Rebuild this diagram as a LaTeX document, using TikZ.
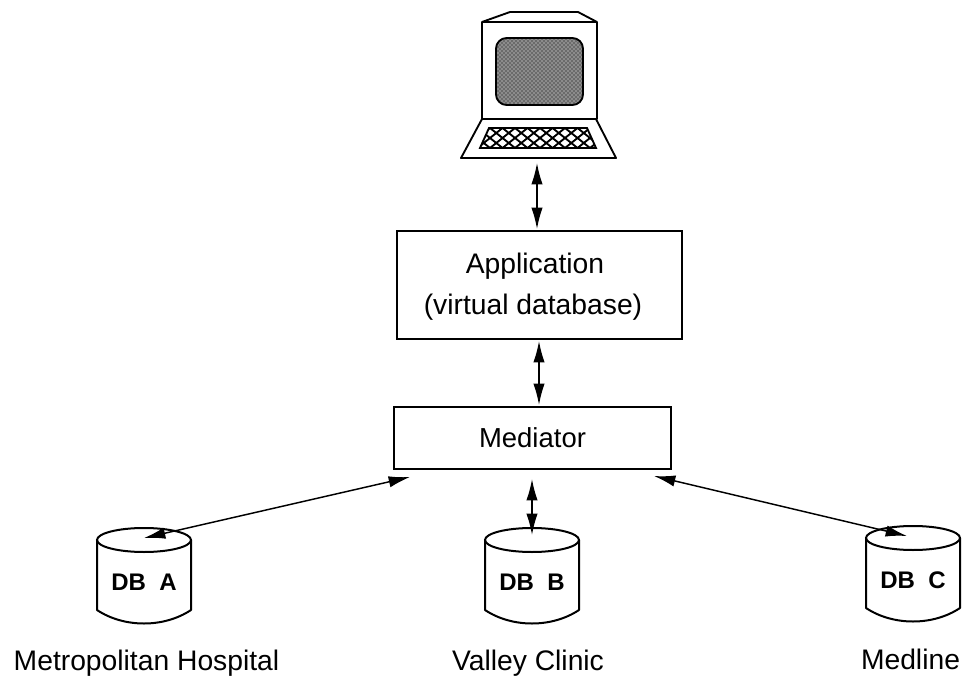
\documentclass[tikz,border=0pt]{standalone}
\usepackage{fontspec}
\setmainfont{Liberation Sans}
\usetikzlibrary{arrows.meta,patterns}

\tikzset{
    boxnode/.style={draw, line width=1.5pt, inner sep=0pt, align=center},
    labeltext/.style={font=\fontsize{21.2}{26}\selectfont, inner sep=0pt, anchor=base},
    pics/dbdisk/.style={code={
        \coordinate (-top) at (0,0);
        \draw [line width=1.5pt, line join=round]
            (-47,0) -- (-47,70) .. controls (-20,88) and (20,88) .. (47,70) -- (47,0);
        \draw [line width=1.5pt] (0,0) ellipse (47 and 12);
        \node (-name) at (0,42) [font=\fontsize{18}{20}\selectfont\bfseries, inner sep=0pt] {#1};
    }}
}

\begin{document}
\begin{tikzpicture}[x=.75pt, y=-.75pt,
        >={Latex[length=16pt,width=8.5pt]},
        link/.style={<->, line width=1.1pt}
        ]
            \useasboundingbox (0,0) rectangle (977,677);

            % Terminal
            \draw [line width=1.4pt, line join=round]
                (482,22) -- (510,12) -- (578,12) -- (597,22) -- cycle
                (482,22) rectangle (597,119)
                (482,119) -- (461,158) -- (616,158) -- (596,119);
            \draw [line width=1.4pt, fill=black!45, rounded corners=8pt,
                   postaction={pattern=crosshatch dots}]
                (496,38) rectangle (583,105);
            \draw [line width=1.4pt, fill=white]
                (489,128) -- (587,128) -- (596,148) -- (480,148) -- cycle;
            \begin{scope}
                \clip (489,128) -- (587,128) -- (596,148) -- (480,148) -- cycle;
                \foreach \k in {440,452.5,...,620}
                    \draw [line width=1.4pt] (\k,128) -- (\k+25,148)
                                             (\k+25,128) -- (\k,148);
            \end{scope}

            % Boxes
            \node (Application) at (539.5,285) [boxnode, minimum width=214pt, minimum height=81pt] {};
            \node (ApplicationName) at (535,273) [labeltext] {Application};
            \node (ApplicationNote) at (533,314) [labeltext] {(virtual database)};
            \node (Mediator) at (532.5,438) [boxnode, font=\fontsize{20.6}{26}\selectfont, minimum width=208pt, minimum height=46.5pt] {Mediator};

            % Databases
            \pic (DBa) at (144,540) {dbdisk={DB\ \ A}};
            \pic (DBb) at (532,540) {dbdisk={DB\ \ B}};
            \pic (DBc) at (913,538) {dbdisk={DB\ \ C}};

            % Labels
            \node (Metropolitan) at (146.5,670) [labeltext] {Metropolitan Hospital};
            \node (Valley) at (528,670) [labeltext] {Valley Clinic};
            \node (Medline) at (910.5,669) [labeltext] {Medline};

            % Arrow ends
            \coordinate (TerminalOut) at (537,163);
            \coordinate (AppIn) at (537,229);
            \coordinate (AppOut) at (539,341);
            \coordinate (MedIn) at (539,405);
            \coordinate (MedB) at (532,479);
            \coordinate (MedA) at (410,477);
            \coordinate (MedC) at (654,476);
            \coordinate (EndA) at (144,538);
            \coordinate (EndB) at (532,535);
            \coordinate (EndC) at (907,536);

            % Arrows
            \draw [link] (TerminalOut) -- (AppIn);
            \draw [link] (AppOut) -- (MedIn);
            \draw [link] (MedB) -- (EndB);
            \draw [link] (MedA) -- (EndA);
            \draw [link] (MedC) -- (EndC);
        \end{tikzpicture}
\end{document}
